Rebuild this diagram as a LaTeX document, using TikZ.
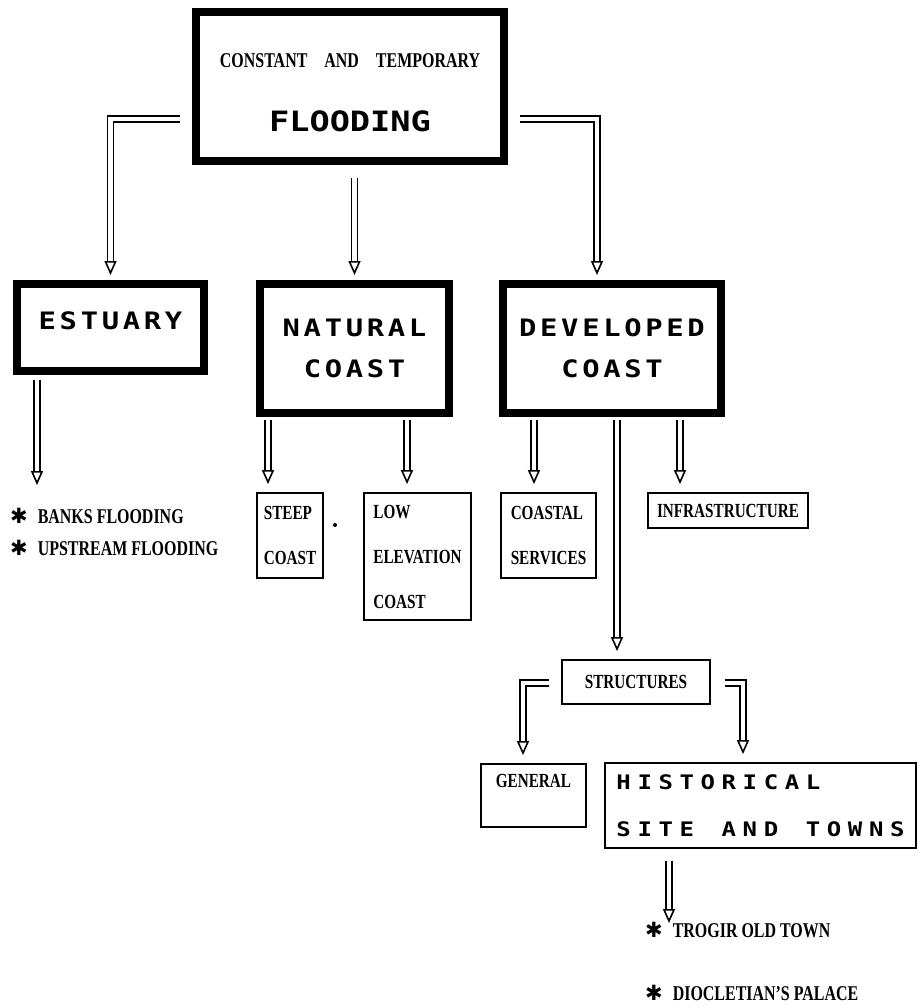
\documentclass[tikz,border=0pt]{standalone}
\usepackage{fontspec}
\usetikzlibrary{arrows.meta}
\newfontfamily\narrowfont{Liberation Serif}[FakeStretch=0.76]
\newfontfamily\boxfont{DejaVu Sans Mono}[FakeStretch=1.2]
\newfontfamily\symfont{DejaVu Sans}
\ExplSyntaxOn
\NewDocumentCommand\spaced{O{3.7pt}m}{\tl_map_inline:nn{#2}{##1\hspace{#1}}\unskip}
\ExplSyntaxOff
\tikzset{
  bigbox/.style={draw, line width=8pt, inner sep=0pt, align=center,
    font=\boxfont\bfseries\fontsize{24}{41}\selectfont},
  smallbox/.style={draw, line width=1.8pt, inner sep=0pt, align=left,
    font=\narrowfont\bfseries\fontsize{20}{45}\selectfont},
  flow/.style={double, double distance=4.5pt, line width=1.6pt,
    -{Triangle[open,length=14pt,width=12pt]}},
  item/.style={anchor=base west, inner sep=0pt,
    font=\narrowfont\bfseries\fontsize{21}{21}\selectfont},
}
\begin{document}
\begin{tikzpicture}[x=1pt,y=-1pt]
\useasboundingbox (0,0) rectangle (918,1007);
% main boxes
\node[bigbox, minimum width=308pt, minimum height=149pt, font=\fontsize{21}{64}\selectfont] (flood) at (350,86.5)
  {{\narrowfont\bfseries\rule{0pt}{26pt}CONSTANT\hspace{17pt}AND\hspace{17pt}TEMPORARY}\\{\boxfont\bfseries\fontsize{28}{28}\selectfont FLOODING}};
\node[bigbox, minimum width=187pt, minimum height=87pt] (estuary) at (110.5,327.5) {\spaced{ESTUARY}\rule[-14pt]{0pt}{14pt}};
\node[bigbox, minimum width=189pt, minimum height=129pt] (natural) at (354.5,348.5) {\spaced{NATURAL}\\\spaced{COAST}};
\node[bigbox, minimum width=218pt, minimum height=129pt] (developed) at (612,348.5) {\spaced{DEVELOPED}\\\spaced{COAST}};
% small boxes
\node[smallbox, minimum width=66pt, minimum height=85pt] (steep) at (290,535.5) {STEEP\\COAST};
\node[smallbox, minimum width=107pt, minimum height=127pt] (low) at (417.5,556.5) {LOW\\ELEVATION\\COAST};
\node[smallbox, minimum width=95pt, minimum height=85pt] (coastal) at (548.5,535.5) {COASTAL\\SERVICES};
\node[smallbox, minimum width=160pt, minimum height=35pt] (infra) at (728,510.5) {INFRASTRUCTURE};
\node[smallbox, minimum width=148pt, minimum height=44pt] (structures) at (636,682) {STRUCTURES};
\node[smallbox, minimum width=105pt, text height=23pt, text depth=40pt] (general) at (533.5,795.5) {GENERAL};
\node[smallbox, minimum width=311pt, minimum height=85pt,
  font=\boxfont\bfseries\fontsize{20}{47}\selectfont] (historical) at (760.5,805.5)
  {\spaced[6.6pt]{HISTORICAL}\\\spaced[6.6pt]{SITE~AND~TOWNS}};
\fill (335,525) circle (2pt);
% lists
\node[item] (banks) at (10,523) {{\symfont ✱}\hspace{10pt}BANKS FLOODING};
\node[item] (upstream) at (10,555) {{\symfont ✱}\hspace{10pt}UPSTREAM FLOODING};
\node[item] (trogir) at (645,937) {{\symfont ✱}\hspace{10pt}TROGIR OLD TOWN};
\node[item] (palace) at (645,1000) {{\symfont ✱}\hspace{10pt}DIOCLETIAN’S PALACE};
% connectors
\coordinate (lft) at (110.5,119);
\coordinate (rgt) at (597,119);
\coordinate (e1) at (37,485);
\coordinate (n1) at (268,0);
\coordinate (n2) at (407,0);
\coordinate (d1) at (534,0);
\coordinate (d2) at (617,0);
\coordinate (d3) at (680,0);
\coordinate (s1) at (523,683);
\coordinate (s2) at (743,683);
\coordinate (h1) at (669,923);
\draw[flow, shorten <=12pt, shorten >=5pt] (flood.west |- lft) -- (lft) -- (lft |- estuary.north);
\draw[flow, shorten <=13pt, shorten >=5pt] (flood.south -| natural) -- (natural.north);
\draw[flow, shorten <=12pt, shorten >=5pt] (flood.east |- rgt) -- (rgt) -- (rgt |- developed.north);
\draw[flow, shorten <=5pt] (estuary.south -| e1) -- (e1);
\draw[flow, shorten <=3pt, shorten >=8pt] (natural.south -| n1) -- (steep.north -| n1);
\draw[flow, shorten <=3pt, shorten >=8pt] (natural.south -| n2) -- (low.north -| n2);
\draw[flow, shorten <=3pt, shorten >=8pt] (developed.south -| d1) -- (coastal.north -| d1);
\draw[flow, shorten <=3pt, shorten >=8pt] (developed.south -| d2) -- (structures.north -| d2);
\draw[flow, shorten <=3pt, shorten >=8pt] (developed.south -| d3) -- (infra.north -| d3);
\draw[flow, shorten <=12pt, shorten >=8pt] (structures.west |- s1) -- (s1) -- (s1 |- general.north);
\draw[flow, shorten <=14pt, shorten >=8pt] (structures.east |- s2) -- (s2) -- (s2 |- historical.north);
\draw[flow, shorten <=12pt] (historical.south -| h1) -- (h1);
\end{tikzpicture}
\end{document}
